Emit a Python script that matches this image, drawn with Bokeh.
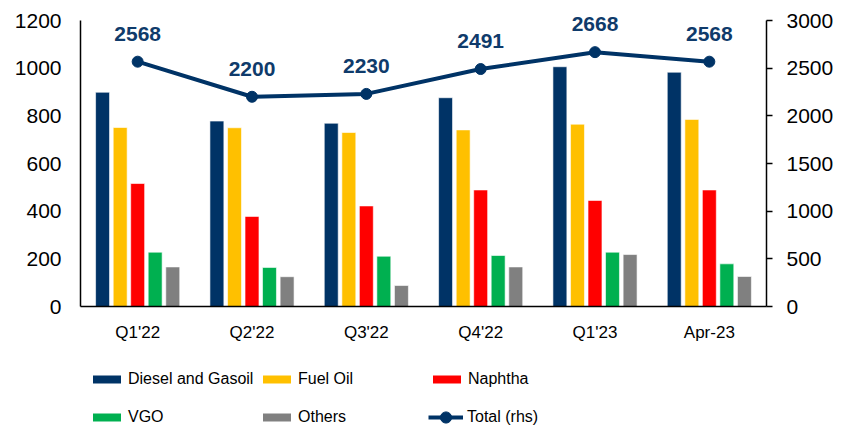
from bokeh.plotting import figure
from bokeh.layouts import column
from bokeh.models import (ColumnDataSource, FactorRange, Range1d, LinearAxis,
                          SingleIntervalTicker, Legend, LegendItem, LabelSet)
from bokeh.transform import dodge
from bokeh.core.properties import value
from bokeh.embed import file_html
from bokeh.resources import INLINE

categories = ["Q1'22", "Q2'22", "Q3'22", "Q4'22", "Q1'23", "Apr-23"]
diesel = [899, 778, 769, 876, 1006, 983]
fuel_oil = [751, 750, 730, 741, 765, 785]
naphtha = [516, 378, 422, 489, 445, 489]
vgo = [228, 164, 211, 214, 228, 179]
others = [166, 125, 88, 166, 218, 126]
total = [2568, 2200, 2230, 2491, 2668, 2568]

series_names = ["Diesel and Gasoil", "Fuel Oil", "Naphtha", "VGO", "Others"]
series_keys = ["diesel", "fuel_oil", "naphtha", "vgo", "others"]
colors = ["#003366", "#FFC000", "#FF0000", "#00B050", "#808080"]
offsets = [-0.307, -0.153, 0.0, 0.153, 0.307]
LINE_COLOR = "#003366"

src = ColumnDataSource(dict(cat=categories, diesel=diesel, fuel_oil=fuel_oil,
                            naphtha=naphtha, vgo=vgo, others=others, total=total,
                            lbl=[str(t) for t in total]))

REG = "Liberation Sans"

# frame extended 12px above the 1200 / 3000 level so labels are not clipped
EXTRA = 12
FH = 286
scale = (FH + EXTRA) / FH
W = 836

p = figure(x_range=FactorRange(*categories), y_range=Range1d(0, 1200 * scale),
           width=W, height=350,
           min_border_left=80, min_border_right=66, min_border_top=20 - EXTRA,
           min_border_bottom=44,
           output_backend="svg", toolbar_location=None)
p.extra_y_ranges = {"rhs": Range1d(0, 3000 * scale)}

for key, col, off in zip(series_keys, colors, offsets):
    p.vbar(x=dodge("cat", off, range=p.x_range), top=key, width=0.122,
           source=src, fill_color=col, line_color="white", line_width=0.6)

p.line(x="cat", y="total", source=src, y_range_name="rhs",
       line_color=LINE_COLOR, line_width=4)
p.scatter(x="cat", y="total", source=src, y_range_name="rhs", size=11,
          fill_color=LINE_COLOR, line_color=LINE_COLOR)
labels = LabelSet(x="cat", y="total", text="lbl", source=src, y_range_name="rhs",
                  y_offset=28, text_align="center", text_baseline="middle",
                  text_font=value(REG), text_font_style="bold", text_font_size="21px",
                  text_color="#0F3B6B")
p.add_layout(labels)

p.xgrid.visible = False
p.ygrid.visible = False
p.outline_line_color = None

# left axis
p.yaxis.ticker = SingleIntervalTicker(interval=200)
ax = p.yaxis[0]
ax.bounds = (0, 1200)
ax.major_tick_out = 0
ax.major_tick_in = 0
ax.minor_tick_out = 0
ax.minor_tick_in = 0
ax.major_label_standoff = 19
ax.axis_line_width = 1.5
ax.axis_line_color = "black"
ax.major_label_text_font = REG
ax.major_label_text_font_size = "21px"
ax.major_label_text_color = "black"

# right axis
rax = LinearAxis(y_range_name="rhs", ticker=SingleIntervalTicker(interval=500))
rax.bounds = (0, 3000)
rax.major_tick_out = 6
rax.major_tick_in = 0
rax.minor_tick_out = 0
rax.minor_tick_in = 0
rax.major_label_standoff = 14
rax.axis_line_width = 1.5
rax.axis_line_color = "black"
rax.major_tick_line_width = 1.5
rax.major_label_text_font = REG
rax.major_label_text_font_size = "21px"
rax.major_label_text_color = "black"
p.add_layout(rax, "right")

# x axis
xa = p.xaxis[0]
xa.major_tick_out = 0
xa.major_tick_in = 0
xa.axis_line_width = 1.5
xa.axis_line_color = "black"
xa.major_label_standoff = 16
xa.major_label_text_font = REG
xa.major_label_text_font_size = "17px"
xa.major_label_text_color = "black"

# legend figure (legend drawn inside its own frame; proxy glyphs lie outside its ranges)
lf = figure(width=W, height=77, x_range=Range1d(0, 1), y_range=Range1d(0, 1),
            min_border=0, output_backend="svg", toolbar_location=None,
            x_axis_type=None, y_axis_type=None)
lf.xgrid.visible = False
lf.ygrid.visible = False
lf.outline_line_color = None
proxy = ColumnDataSource(dict(x=[-5], y=[-5]))
lrs = [lf.vbar(x="x", top="y", width=0.1, source=proxy, fill_color=c, line_color=None)
       for c in colors]
lln = lf.line(x="x", y="y", source=proxy, line_color=LINE_COLOR, line_width=4)
lsc = lf.scatter(x="x", y="y", source=proxy, size=11, fill_color=LINE_COLOR,
                 line_color=LINE_COLOR)

common = dict(glyph_width=35, label_standoff=4, spacing=0, label_height=38,
              margin=0, padding=0, border_line_color=None, background_fill_alpha=0,
              label_text_font=REG, label_text_font_size="16px", label_text_color="black")

items = [LegendItem(label=n, renderers=[r]) for n, r in zip(series_names, lrs)]
leg = Legend(items=items, orientation="horizontal", ncols=3,
             glyph_height=10, label_width=131, location=(9, -9), **common)
lf.add_layout(leg)

leg2 = Legend(items=[LegendItem(label="Total (rhs)", renderers=[lln, lsc])],
              glyph_height=28, label_width=100, location=(348, -9), **common)
lf.add_layout(leg2)

layout = column(p, lf, spacing=0)
open("out.html", "w").write(file_html(layout, INLINE))
